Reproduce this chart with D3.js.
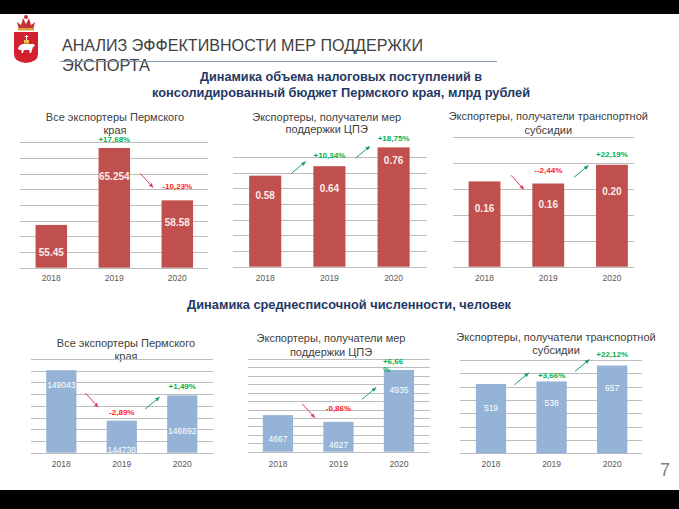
<!DOCTYPE html>
<html><head><meta charset="utf-8">
<script src="https://cdn.jsdelivr.net/npm/d3@7"></script>
<style>body{margin:0;background:#fff}svg{display:block}</style>
</head><body>
<script>
// ---------------- DATA ----------------
const years = ["2018", "2019", "2020"];

const taxAllValues = [55.45, 65.254, 58.58];
const taxAllChanges = ["", "+17,68%", "-10,23%"];
const taxAllTicks = [50, 52, 54, 56, 58, 60, 62, 64, 66];

const taxCpeValues = [0.58, 0.64, 0.76];
const taxCpeChanges = ["", "+10,34%", "+18,75%"];
const taxCpeTicks = [0, 0.1, 0.2, 0.3, 0.4, 0.5, 0.6, 0.7];

const taxTransportValues = [0.164, 0.160, 0.196];
const taxTransportLabels = ["0.16", "0.16", "0.20"];
const taxTransportChanges = ["", "--2,44%", "+22,19%"];
const taxTransportTicks = [0, 0.05, 0.1, 0.15, 0.2, 0.25];

const staffAllValues = [149043, 144738, 146892];
const staffAllChanges = ["", "-2,89%", "+1,49%"];
const staffAllTicks = [142000, 143000, 144000, 145000, 146000, 147000, 148000, 149000, 150000];

const staffCpeValues = [4667, 4627, 4935];
const staffCpeChanges = ["", "-0,86%", "+6,66\n%"];
const staffCpeTicks = [4450, 4500, 4550, 4600, 4650, 4700, 4750, 4800, 4850, 4900, 4950, 5000];

const staffTransportValues = [519, 538, 657];
const staffTransportChanges = ["", "+3,66%", "+22,12%"];
const staffTransportTicks = [0, 100, 200, 300, 400, 500, 600, 700];

// ---------------- STYLE / LAYOUT ----------------
const W = 679, H = 509;
const RED = "#c0504d", BLUE = "#95b3d7";
const GREEN_TXT = "#00b050", RED_TXT = "#ff1a1a";
const GREEN_ARR = "#1f9e6a", RED_ARR = "#e0405a";
const FONT = "'Liberation Sans', Arial, sans-serif";

const svg = d3.select("body").append("svg").attr("width", W).attr("height", H)
  .style("font-family", FONT);

const defs = svg.append("defs");
[["g", GREEN_ARR], ["r", RED_ARR]].forEach(([id, c]) => {
  defs.append("marker").attr("id", "arr" + id).attr("viewBox", "0 0 10 10")
    .attr("refX", 8).attr("refY", 5).attr("markerWidth", 5).attr("markerHeight", 5)
    .attr("orient", "auto").append("path").attr("d", "M0,1L10,5L0,9Z").attr("fill", c);
});

// black bands
svg.append("rect").attr("x", 0).attr("y", 0).attr("width", W).attr("height", 14).attr("fill", "#000");
svg.append("rect").attr("x", 0).attr("y", 490).attr("width", W).attr("height", 19).attr("fill", "#000");

// logo
const logo = svg.append("g");
logo.append("path").attr("d", "M19,30 L17,22 L21,25 L23,18 L26,24 L29,18 L31,25 L35,22 L33,30 Z")
  .attr("fill", "#c8313a");
logo.append("ellipse").attr("cx", 26).attr("cy", 17).attr("rx", 2).attr("ry", 2).attr("fill", "#c8313a");
logo.append("rect").attr("x", 18).attr("y", 28).attr("width", 16).attr("height", 2.5).attr("fill", "#d9a441");
logo.append("path").attr("d", "M14,32 L38,32 L38,54 Q38,62 26,63 Q14,62 14,54 Z").attr("fill", "#d3202f");
logo.append("path").attr("d", "M18,49 Q19,44 24,44 L31,44 Q34,43 35,46 L33,47 L32,50 L31,53 L29.5,53 L29.5,50 L24,50 L23,53 L21.5,53 L21.5,50 Q19,50 18,49 Z")
  .attr("fill", "#fff");
logo.append("rect").attr("x", 24).attr("y", 40).attr("width", 5).attr("height", 3.5).attr("fill", "#e8c14a");
logo.append("path").attr("d", "M26.5,35 v5 M24.8,36.6 h3.4").attr("stroke", "#fff").attr("stroke-width", 1);

// main title
svg.append("text").attr("x", 62).attr("y", 51).attr("fill", "#404040").attr("font-size", 17)
  .attr("textLength", 361).attr("lengthAdjust", "spacingAndGlyphs")
  .text("АНАЛИЗ ЭФФЕКТИВНОСТИ МЕР ПОДДЕРЖКИ");
svg.append("text").attr("x", 62).attr("y", 71).attr("fill", "#404040").attr("font-size", 17)
  .attr("textLength", 88).attr("lengthAdjust", "spacingAndGlyphs")
  .text("ЭКСПОРТА");
svg.append("line").attr("x1", 60).attr("x2", 497).attr("y1", 61.5).attr("y2", 61.5)
  .attr("stroke", "#8496b0").attr("stroke-width", 1);

// section subtitles
const NAVY = "#1f3864";
function subtitle(txt, cx, cy, len) {
  svg.append("text").attr("x", cx - len / 2).attr("y", cy).attr("dominant-baseline", "central")
    .attr("fill", NAVY).attr("font-size", 12.5).attr("font-weight", "bold")
    .attr("textLength", len).attr("lengthAdjust", "spacingAndGlyphs").text(txt);
}
subtitle("Динамика объема налоговых поступлений в", 341, 77, 282);
subtitle("консолидированный бюджет Пермского края, млрд рублей", 341, 93, 378);
subtitle("Динамика среднесписочной численности, человек", 349, 305, 324);

// page number
svg.append("text").attr("x", 665).attr("y", 476).attr("text-anchor", "middle")
  .attr("fill", "#7f7f7f").attr("font-size", 18).text("7");

// ---------------- CHARTS ----------------
const charts = [
  { title: ["Все экспортеры Пермского", "края"], titleX: 115, titleY: [116.7, 130],
    values: taxAllValues, labels: taxAllValues.map(String), changes: taxAllChanges, ticks: taxAllTicks,
    xRange: [19.8, 208.8], gridX: [20, 208], yRange: [267.7, 142.1], color: RED, top: true,
    valueDy: [27.7, 29, 21.7], changeDy: [0, -8.5, -14], arrow: [false, false, true], arrowDy: [0, 0, -6], yearY: 278 },
  { title: ["Экспортеры, получатели мер", "поддержки ЦПЭ"], titleX: 326.7, titleY: [116.7, 129],
    values: taxCpeValues, labels: taxCpeValues.map(String), changes: taxCpeChanges, ticks: taxCpeTicks,
    xRange: [233.1, 425.7], gridX: [233, 427], yRange: [266.7, 156.8], color: RED, top: true,
    valueDy: [20, 22.3, 13.3], changeDy: [0, -10.3, -8.4], arrow: [false, true, true], arrowDy: [0, 11.8, 13.4], yearY: 278 },
  { title: ["Экспортеры, получатели транспортной", "субсидии"], titleX: 548.3, titleY: [116, 130],
    values: taxTransportValues, labels: taxTransportLabels, changes: taxTransportChanges, ticks: taxTransportTicks,
    xRange: [452.7, 643.8], gridX: [453, 634], yRange: [266.7, 136.7], color: RED, top: true,
    valueDy: [26.6, 20.7, 26.6], changeDy: [0, -13.3, -10.7], arrow: [false, true, true], arrowDy: [0, 12, 17.5], yearY: 278 },
  { title: ["Все экспортеры Пермского", "края"], titleX: 126, titleY: [343.3, 355.7],
    values: staffAllValues, labels: staffAllValues.map(String), changes: staffAllChanges, ticks: staffAllTicks,
    xRange: [31.1, 212.5], gridX: [31, 213], yRange: [452.7, 359], color: BLUE, top: false,
    valueDy: [15, 29.3, 35.7], changeDy: [0, -8, -8.7], arrow: [false, true, true], arrowDy: [0, -12.7, 16.5], yearY: 463.5 },
  { title: ["Экспортеры, получатели мер", "поддержки ЦПЭ"], titleX: 331, titleY: [337.7, 351.7],
    values: staffCpeValues, labels: staffCpeValues.map(String), changes: staffCpeChanges, ticks: staffCpeTicks,
    xRange: [247.7, 429.2], gridX: [248, 430], yRange: [451.7, 359], color: BLUE, top: false,
    valueDy: [24.3, 22.7, 20], changeDy: [0, -13, -9.3], arrow: [false, true, true], arrowDy: [0, 1.7, 33], yearY: 463.5 },
  { title: ["Экспортеры, получатели транспортной", "субсидии"], titleX: 556, titleY: [336.7, 350],
    values: staffTransportValues, labels: staffTransportValues.map(String), changes: staffTransportChanges, ticks: staffTransportTicks,
    xRange: [460.7, 642.5], gridX: [460, 642], yRange: [453.3, 359.8], color: BLUE, top: false,
    valueDy: [24.3, 21.7, 22.3], changeDy: [0, -6, -10.7], arrow: [false, true, true], arrowDy: [0, 3.5, 10.7], yearY: 463.5 }
];

charts.forEach(c => {
  const g = svg.append("g");
  const x = d3.scaleBand().domain(years).range(c.xRange).paddingInner(0.5).paddingOuter(0.25);
  const y = d3.scaleLinear().domain(d3.extent(c.ticks)).range(c.yRange);

  // title
  c.title.forEach((t, i) => {
    g.append("text").attr("x", c.titleX).attr("y", c.titleY[i]).attr("text-anchor", "middle")
      .attr("dominant-baseline", "central").attr("fill", "#404040").attr("font-size", 11).text(t);
  });

  // gridlines
  g.selectAll("line.grid").data(c.ticks).join("line").attr("class", "grid")
    .attr("x1", c.gridX[0]).attr("x2", c.gridX[1])
    .attr("y1", d => Math.round(y(d)) + 0.5).attr("y2", d => Math.round(y(d)) + 0.5)
    .attr("stroke", "#bdbdbd").attr("stroke-width", 1);

  // bars
  g.selectAll("rect.bar").data(c.values).join("rect").attr("class", "bar")
    .attr("x", (d, i) => x(years[i])).attr("width", x.bandwidth())
    .attr("y", d => y(d)).attr("height", d => y(y.domain()[0]) - y(d))
    .attr("fill", c.color);

  // value labels
  g.selectAll("text.val").data(c.values).join("text").attr("class", "val")
    .attr("x", (d, i) => x(years[i]) + x.bandwidth() / 2)
    .attr("y", (d, i) => y(d) + c.valueDy[i])
    .attr("text-anchor", "middle").attr("dominant-baseline", "central")
    .attr("fill", c.top ? "#fbeaea" : "#ffffff")
    .attr("font-size", c.top ? 10 : 8.5).attr("font-weight", c.top ? "bold" : "normal")
    .text((d, i) => c.labels[i]);

  // year labels
  g.selectAll("text.year").data(years).join("text").attr("class", "year")
    .attr("x", d => x(d) + x.bandwidth() / 2).attr("y", c.yearY)
    .attr("text-anchor", "middle").attr("dominant-baseline", "central")
    .attr("fill", "#595959").attr("font-size", 8.5).text(d => d);

  // change annotations
  c.changes.forEach((t, i) => {
    if (!t) return;
    const up = t.trim().startsWith("+");
    const cx = x(years[i]) + x.bandwidth() / 2;
    const ly = y(c.values[i]) + c.changeDy[i];
    const lines = t.split("\n");
    const txt = g.append("text").attr("fill", up ? GREEN_TXT : RED_TXT)
      .attr("font-size", 8).attr("font-weight", "bold").attr("dominant-baseline", "central");
    if (lines.length > 1) {
      txt.attr("text-anchor", "start");
      lines.forEach((l, k) => txt.append("tspan").attr("x", cx - 16).attr("y", ly + k * 8.6).text(l));
    } else {
      txt.attr("text-anchor", "middle").attr("x", cx).attr("y", ly).text(t);
    }
    if (c.arrow[i]) {
      const mx = x(years[i]) - 15, my = ly + c.arrowDy[i];
      const dx = up ? 7 : 6.25, dy = up ? -5.75 : 6.9;
      g.append("line").attr("x1", mx - dx).attr("y1", my - dy).attr("x2", mx + dx).attr("y2", my + dy)
        .attr("stroke", up ? GREEN_ARR : RED_ARR).attr("stroke-width", 1)
        .attr("marker-end", up ? "url(#arrg)" : "url(#arrr)");
    }
  });
});
</script>
</body></html>
